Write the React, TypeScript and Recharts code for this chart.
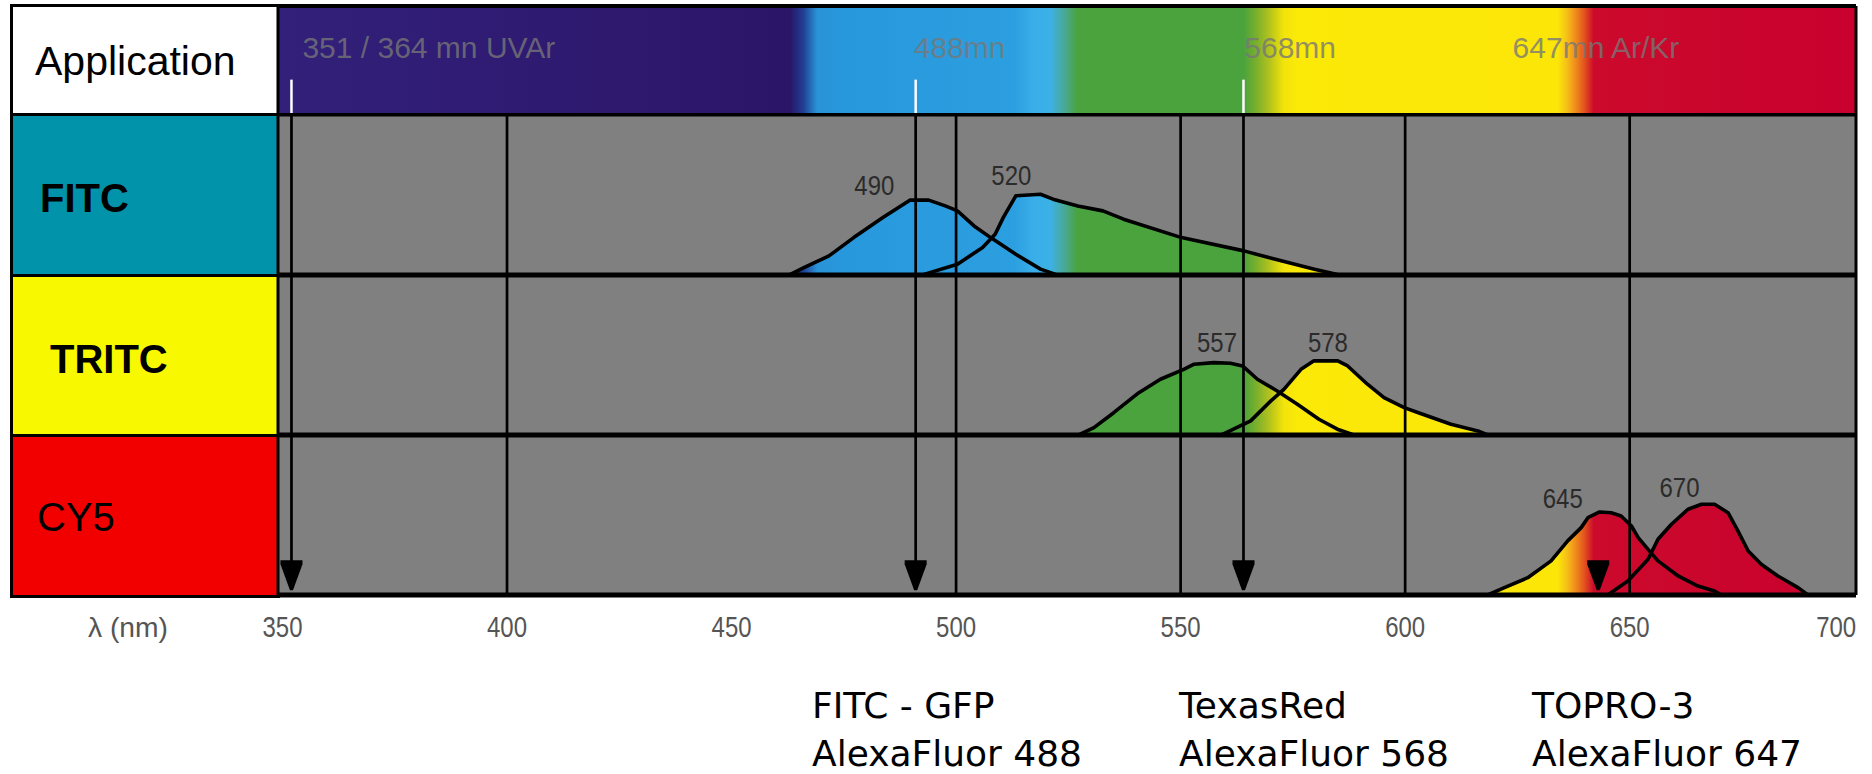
import React from "react"
import {
  ComposedChart,
  Area,
  XAxis,
  YAxis,
  ReferenceArea,
  ReferenceLine,
  ReferenceDot,
} from "recharts"

// wavelength axis (nm)
const tickNm = [350, 400, 450, 500, 550, 600, 650, 700]
const gridNm = [400, 500, 550, 600, 650]
// laser arrows, as placed in the picture; the last one has no line
const laserLineNm = [352, 491, 564]
const arrowNm = [352, 491, 564, 643]

// spectra: height in % of a row
const fitcEx = [
  { nm: 462.9, v: 0 }, { nm: 466.1, v: 4.6 }, { nm: 471.7, v: 11.9 }, { nm: 477.2, v: 23.3 },
  { nm: 483.7, v: 35.8 }, { nm: 489.7, v: 46.7 }, { nm: 493.9, v: 46.7 }, { nm: 497.6, v: 43.1 },
  { nm: 500.3, v: 40 }, { nm: 504.0, v: 30.6 }, { nm: 507.7, v: 23.3 }, { nm: 513.3, v: 12.9 },
  { nm: 518.8, v: 3.6 }, { nm: 522.5, v: 0 },
]
const fitcEm = [
  { nm: 492.5, v: 0 }, { nm: 500.3, v: 6.7 }, { nm: 505.9, v: 17.1 }, { nm: 508.7, v: 25.4 },
  { nm: 510.5, v: 35.8 }, { nm: 513.3, v: 49.4 }, { nm: 518.8, v: 50.4 }, { nm: 521.6, v: 47.3 },
  { nm: 527.1, v: 43.1 }, { nm: 532.7, v: 40 }, { nm: 537.3, v: 34.8 }, { nm: 550.2, v: 23.3 },
  { nm: 564.1, v: 15 }, { nm: 572.4, v: 8.8 }, { nm: 579.8, v: 3.6 }, { nm: 585.4, v: 0 },
]
const tritcEx = [
  { nm: 527.3, v: 0 }, { nm: 530.7, v: 4.6 }, { nm: 535.1, v: 13.9 }, { nm: 540.7, v: 26.4 },
  { nm: 545.5, v: 34.8 }, { nm: 550.7, v: 41 }, { nm: 553.0, v: 44.2 }, { nm: 557.4, v: 45.2 },
  { nm: 561.1, v: 44.8 }, { nm: 563.8, v: 43.1 }, { nm: 567.1, v: 34.8 }, { nm: 571.5, v: 27.5 },
  { nm: 576.0, v: 19.2 }, { nm: 580.8, v: 9.8 }, { nm: 584.9, v: 3.6 }, { nm: 588.6, v: 0 },
]
const tritcEm = [
  { nm: 559.1, v: 0 }, { nm: 565.6, v: 8.8 }, { nm: 570.1, v: 21.3 }, { nm: 573.0, v: 28.5 },
  { nm: 576.8, v: 41 }, { nm: 579.7, v: 46.3 }, { nm: 585.0, v: 46.3 }, { nm: 587.2, v: 43.1 },
  { nm: 591.6, v: 31.7 }, { nm: 595.3, v: 23.3 }, { nm: 599.8, v: 17.1 }, { nm: 602.8, v: 14 },
  { nm: 610.2, v: 6.7 }, { nm: 616.2, v: 2.5 }, { nm: 618.4, v: 0 },
]
const cy5Ex = [
  { nm: 618.4, v: 0 }, { nm: 622.1, v: 4.6 }, { nm: 627.3, v: 10.8 }, { nm: 632.5, v: 21.3 },
  { nm: 636.2, v: 33.8 }, { nm: 639.2, v: 42.1 }, { nm: 640.7, v: 48.3 }, { nm: 643.3, v: 51.9 },
  { nm: 645.9, v: 51.4 }, { nm: 648.1, v: 49.4 }, { nm: 650.4, v: 43.1 }, { nm: 651.9, v: 35.8 },
  { nm: 654.1, v: 28.5 }, { nm: 656.3, v: 21.3 }, { nm: 660.8, v: 11.9 }, { nm: 665.2, v: 5.6 },
  { nm: 668.9, v: 2.5 }, { nm: 670.4, v: 0 },
]
const cy5Em = [
  { nm: 645.1, v: 0 }, { nm: 649.6, v: 8.8 }, { nm: 654.1, v: 22.3 }, { nm: 656.3, v: 34.8 },
  { nm: 659.3, v: 44.2 }, { nm: 663.0, v: 53.6 }, { nm: 666.0, v: 56.7 }, { nm: 668.9, v: 56.7 },
  { nm: 671.9, v: 51.4 }, { nm: 674.1, v: 40 }, { nm: 676.4, v: 27.5 }, { nm: 679.3, v: 19.2 },
  { nm: 683.0, v: 11.9 }, { nm: 687.5, v: 4.6 }, { nm: 689.7, v: 0 },
]

const peakLabels = [
  { text: "490", row: "fitc", nm: 481.8, v: 55.6 },
  { text: "520", row: "fitc", nm: 512.3, v: 61.9 },
  { text: "557", row: "tritc", nm: 558.1, v: 57.5 },
  { text: "578", row: "tritc", nm: 582.8, v: 57.5 },
  { text: "645", row: "cy5", nm: 635.1, v: 60 },
  { text: "670", row: "cy5", nm: 661.1, v: 66.9 },
]
const bandLabels = [
  { text: "351 / 364 mn UVAr", nm: 382.6 },
  { text: "488mn", nm: 500.8 },
  { text: "568mn", nm: 574.4 },
  { text: "647mn Ar/Kr", nm: 642.5 },
]

// visible spectrum colours by wavelength
const spectrumNm = [349, 455, 463, 466, 469, 475, 513, 517, 521, 524, 527, 564, 567, 570, 573, 576, 634, 636, 638, 640, 642, 700.4]
const spectrumColor = [
  "#32207a", "#2c166a", "#2a1566", "#213f93", "#2a92d6", "#2898dc", "#2c9fe0", "#38ade8",
  "#3cb1e6", "#48a99a", "#4aa33e", "#4aa33c", "#7cb02c", "#b8c41c", "#f2e40a", "#fbe908",
  "#fbe608", "#f6c018", "#ef8a1c", "#e2501e", "#cc0a2c", "#c8002e",
]

const rowLabels = ["Application", "FITC", "TRITC", "CY5"]
const bottomTitles = ["FITC - GFP", "TexasRed", "TOPRO-3"]
const bottomDyes = ["AlexaFluor 488", "AlexaFluor 568", "AlexaFluor 647"]

const curves = [
  { key: "fitcEx", row: "fitc", pts: fitcEx },
  { key: "fitcEm", row: "fitc", pts: fitcEm },
  { key: "tritcEx", row: "tritc", pts: tritcEx },
  { key: "tritcEm", row: "tritc", pts: tritcEm },
  { key: "cy5Ex", row: "cy5", pts: cy5Ex },
  { key: "cy5Em", row: "cy5", pts: cy5Em },
]

const byNm = new Map<number, any>()
curves.forEach((c) =>
  c.pts.forEach((p) => {
    const r = byNm.get(p.nm) ?? { nm: p.nm }
    r[c.key] = p.v
    byNm.set(p.nm, r)
  })
)
const table = [...byNm.values()].sort((a, b) => a.nm - b.nm)

const W = 1872
const H = 774
const M = { top: 6, right: 16, bottom: 129, left: 278 }
const X_MIN = 349
const X_MAX = 700.4
const Y_TOP = 368
const plotW = W - M.left - M.right
const arial = "'Liberation Sans', Arial, sans-serif"

const rowDomain: Record<string, [number, number]> = {
  cy5: [0, Y_TOP],
  tritc: [-100, Y_TOP - 100],
  fitc: [-200, Y_TOP - 200],
  grid: [0, Y_TOP],
}

// condensed, greyish tick labels like the scanned original
function NmTick({ x, y, payload }: any) {
  const last = payload.value === tickNm[tickNm.length - 1]
  return (
    <text
      x={last ? x + 2 : x}
      y={y}
      dy={34}
      textAnchor={last ? "end" : "middle"}
      fontFamily={arial}
      fontSize={29}
      textLength={40}
      lengthAdjust="spacingAndGlyphs"
      fill="#555"
    >
      {payload.value}
    </text>
  )
}

function Arrowhead({ cx, cy }: any) {
  return (
    <polygon
      points={`${cx - 11},${cy - 30} ${cx + 11},${cy - 30} ${cx + 11},${cy - 26} ${cx + 1.5},${cy} ${cx - 1.5},${cy} ${cx - 11},${cy - 26}`}
      fill="#000"
    />
  )
}

// cell layout of the left column
const cellEdges = [5, 114, 275, 435, 596]
const cellBg = ["#ffffff", "#0093aa", "#f8f800", "#f20000"]
const cellBold = [false, true, true, false]
const cellTextX = [35, 40, 50, 37]
const cellCapY = [61, 198, 359, 517]
const bottomX = [812, 1179, 1532]

export default function App() {
  return (
    <div style={{ position: "absolute", left: 0, top: 0, width: W, height: H, background: "#fff", overflow: "hidden" }}>
      {rowLabels.map((label, i) => (
        <div
          key={label}
          style={{
            position: "absolute",
            left: 10,
            top: cellEdges[i] - 1.5,
            width: 270,
            height: cellEdges[i + 1] - cellEdges[i] + 3,
            boxSizing: "border-box",
            border: "3px solid #000",
            background: cellBg[i],
          }}
        />
      ))}
      {rowLabels.map((label, i) => (
        <div
          key={label + "-t"}
          style={{
            position: "absolute",
            left: cellTextX[i],
            top: cellCapY[i] - 20,
            fontFamily: arial,
            fontSize: i === 0 ? 41 : 40,
            lineHeight: "40px",
            fontWeight: cellBold[i] ? 700 : 400,
            color: "#000",
            whiteSpace: "nowrap",
          }}
        >
          {label}
        </div>
      ))}

      <div style={{ position: "absolute", left: 0, top: 0 }}>
        <ComposedChart width={W} height={H} data={table} margin={M}>
          <defs>
            <linearGradient id="spectrum" gradientUnits="userSpaceOnUse" x1={M.left} x2={M.left + plotW} y1={0} y2={0}>
              {spectrumNm.map((nm, i) => (
                <stop key={i} offset={(nm - X_MIN) / (X_MAX - X_MIN)} stopColor={spectrumColor[i]} />
              ))}
            </linearGradient>
          </defs>
          <XAxis
            dataKey="nm"
            type="number"
            domain={[X_MIN, X_MAX]}
            allowDataOverflow
            ticks={tickNm}
            interval={0}
            height={50}
            axisLine={false}
            tickLine={false}
            tick={<NmTick />}
          />
          {Object.keys(rowDomain).map((id) => (
            <YAxis key={id} yAxisId={id} type="number" domain={rowDomain[id]} allowDataOverflow hide />
          ))}

          <ReferenceArea yAxisId="grid" x1={X_MIN} x2={X_MAX} y1={0} y2={300} fill="#808080" fillOpacity={1} stroke="none" zIndex={-60} />
          <ReferenceArea yAxisId="grid" x1={X_MIN} x2={X_MAX} y1={300} y2={Y_TOP} fill="url(#spectrum)" fillOpacity={1} stroke="none" zIndex={-60} />

          {curves.map((c) => (
            <Area
              key={c.key + "-fill"}
              yAxisId={c.row}
              dataKey={c.key}
              type="linear"
              baseValue={0}
              connectNulls
              fill="url(#spectrum)"
              fillOpacity={1}
              stroke="none"
              dot={false}
              activeDot={false}
              isAnimationActive={false}
              zIndex={100}
            />
          ))}
          {curves.map((c) => (
            <Area
              key={c.key + "-line"}
              yAxisId={c.row}
              dataKey={c.key}
              type="linear"
              baseValue={0}
              connectNulls
              fill="none"
              stroke="#000"
              strokeWidth={3.6}
              strokeLinejoin="round"
              dot={false}
              activeDot={false}
              isAnimationActive={false}
              zIndex={150}
            />
          ))}

          {gridNm.map((nm) => (
            <ReferenceLine key={"g" + nm} yAxisId="grid" segment={[{ x: nm, y: 0 }, { x: nm, y: 300 }]} stroke="#000" strokeWidth={2.7} zIndex={400} />
          ))}
          {laserLineNm.map((nm) => (
            <ReferenceLine key={"lb" + nm} yAxisId="grid" segment={[{ x: nm, y: 8 }, { x: nm, y: 300 }]} stroke="#000" strokeWidth={2.7} zIndex={400} />
          ))}
          {laserLineNm.map((nm) => (
            <ReferenceLine key={"lw" + nm} yAxisId="grid" segment={[{ x: nm, y: 300 }, { x: nm, y: 322 }]} stroke="#fff" strokeWidth={2.5} zIndex={400} />
          ))}
          <ReferenceLine yAxisId="grid" segment={[{ x: X_MAX, y: 0 }, { x: X_MAX, y: Y_TOP }]} stroke="#000" strokeWidth={3} zIndex={450} />
          <ReferenceLine yAxisId="grid" segment={[{ x: X_MIN, y: 0 }, { x: X_MIN, y: Y_TOP }]} stroke="#000" strokeWidth={3} zIndex={450} />
          {[0, 100, 200].map((y) => (
            <ReferenceLine key={"r" + y} yAxisId="grid" y={y} stroke="#000" strokeWidth={5} zIndex={450} />
          ))}
          <ReferenceLine yAxisId="grid" y={300} stroke="#000" strokeWidth={3.5} zIndex={450} />
          <ReferenceLine yAxisId="grid" y={Y_TOP} stroke="#000" strokeWidth={4} zIndex={450} />

          {arrowNm.map((nm) => (
            <ReferenceDot key={"a" + nm} yAxisId="grid" x={nm} y={3} r={0} shape={<Arrowhead />} zIndex={600} />
          ))}

          {peakLabels.map((p) => (
            <ReferenceDot
              key={p.text}
              yAxisId={p.row}
              x={p.nm}
              y={p.v}
              r={0}
              zIndex={2000}
              shape={(s: any) => (
                <text
                  x={s.cx}
                  y={s.cy}
                  textAnchor="middle"
                  dominantBaseline="central"
                  fontFamily={arial}
                  fontSize={27}
                  textLength={40}
                  lengthAdjust="spacingAndGlyphs"
                  fill="#2b2b2b"
                >
                  {p.text}
                </text>
              )}
            />
          ))}
          {bandLabels.map((b) => (
            <ReferenceDot
              key={b.text}
              yAxisId="grid"
              x={b.nm}
              y={342}
              r={0}
              zIndex={2000}
              shape={(s: any) => (
                <text x={s.cx} y={s.cy} textAnchor="middle" dominantBaseline="central" fontFamily={arial} fontSize={30} fill="#777" fillOpacity={0.8}>
                  {b.text}
                </text>
              )}
            />
          ))}
        </ComposedChart>
      </div>

      <svg style={{ position: "absolute", left: 0, top: 600 }} width={220} height={60}>
        <text x={88} y={37} fontFamily={arial} fontSize={28} textLength={80} lengthAdjust="spacingAndGlyphs" fill="#555">
          λ (nm)
        </text>
      </svg>

      {bottomTitles.map((t, i) => (
        <div key={t} style={{ position: "absolute", left: bottomX[i], top: 688, fontFamily: "'DejaVu Sans', sans-serif", fontSize: 36, lineHeight: "36px", color: "#000", whiteSpace: "nowrap" }}>
          {t}
          <br />
          <span style={{ display: "inline-block", marginTop: 12 }}>{bottomDyes[i]}</span>
        </div>
      ))}
    </div>
  )
}
